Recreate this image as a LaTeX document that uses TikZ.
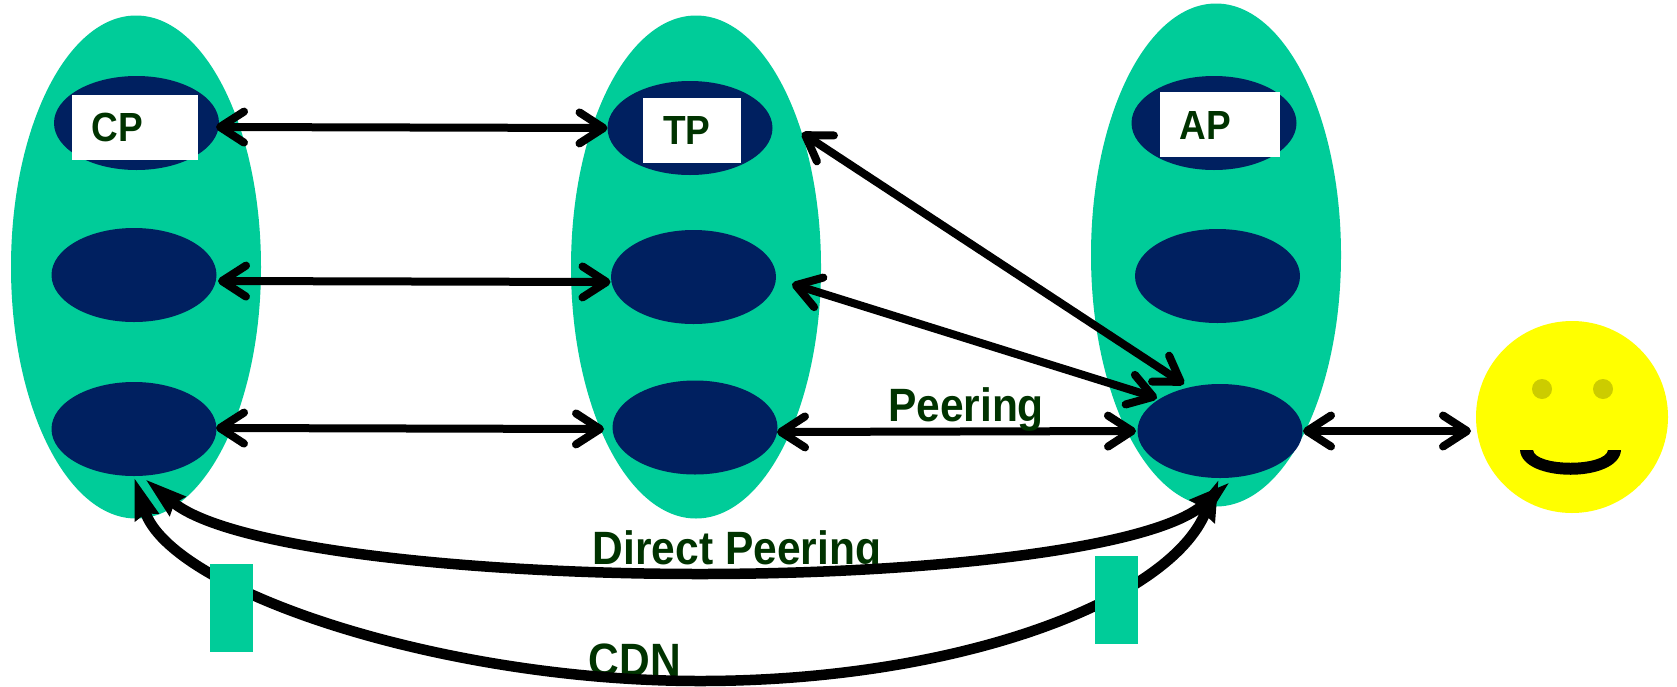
\documentclass[tikz,border=0pt]{standalone}
\usepackage{fontspec}
\setmainfont{Liberation Sans}
\usetikzlibrary{arrows.meta,shapes.geometric}
\definecolor{tealfill}{HTML}{00CC99}
\definecolor{navyfill}{HTML}{002060}
\definecolor{labelgreen}{HTML}{003300}
\definecolor{eyecol}{HTML}{CCCC00}
\definecolor{smiley}{HTML}{FFFF00}
\newcommand{\tallword}[1]{\scalebox{1}[1.1]{#1}}
\tikzset{
  group/.style={ellipse,fill=tealfill,inner sep=0pt,minimum width=250pt,minimum height=503pt},
  router/.style={ellipse,fill=navyfill,inner sep=0pt,minimum width=165pt,minimum height=94pt},
  whitebox/.style={rectangle,fill=white,inner sep=0pt,minimum height=65pt},
  tealbox/.style={rectangle,fill=tealfill,inner sep=0pt,minimum width=43pt,minimum height=88pt},
  smalllabel/.style={anchor=base,inner sep=0pt,text=labelgreen,font=\fontsize{37}{44}\selectfont\bfseries},
  biglabel/.style={anchor=base,inner sep=0pt,text=labelgreen,font=\fontsize{42.5}{48}\selectfont\bfseries},
  link/.style={line width=8pt,line cap=round,{Straight Barb[length=24pt,width=31pt,round]}-{Straight Barb[length=24pt,width=31pt,round]}},
  longlink/.style={line width=10.5pt,{Stealth[length=41pt,width=23pt,inset=3pt]}-{Stealth[length=41pt,width=23pt,inset=3pt]}},
}
\begin{document}
\begin{tikzpicture}[x=1pt,y=-1pt]
\useasboundingbox (0,0) rectangle (1677,686);
% groups
\node[group] (gl) at (136,267) {};
\node[group] (gm) at (696,267) {};
\node[group] (gr) at (1216,255) {};
% routers
\node[router] (cp) at (136.5,123) {};
\node[router] (l2) at (134,275) {};
\node[router] (l3) at (134,429) {};
\node[router] (tp) at (690,128) {};
\node[router] (m2) at (693.5,277) {};
\node[router] (m3) at (695,427.5) {};
\node[router] (ap) at (1214,123) {};
\node[router] (r2) at (1217.5,276) {};
\node[router] (r3) at (1220,431) {};
% white boxes and labels
\node[whitebox,minimum width=126pt] (cpbox) at (135,127.5) {};
\node[whitebox,minimum width=98pt] (tpbox) at (692,130.5) {};
\node[whitebox,minimum width=120pt] (apbox) at (1220,124.5) {};
\node[smalllabel] (cplabel) at (117,141.5) {\tallword{CP}};
\node[smalllabel] (tplabel) at (687,144) {\tallword{TP}};
\node[smalllabel] (aplabel) at (1205,139) {\tallword{AP}};
\node[biglabel] (dplabel) at (737,564) {\tallword{Direct Peering}};
\node[biglabel] (cdnlabel) at (635,676) {\tallword{CDN}};
% user
\node[circle,fill=smiley,inner sep=0pt,minimum size=192pt] (user) at (1572,417) {};
\node[circle,fill=eyecol,inner sep=0pt,minimum size=20pt] (eyel) at (1542,389) {};
\node[circle,fill=eyecol,inner sep=0pt,minimum size=20pt] (eyer) at (1603,389) {};
\fill[black] (1520,450) .. controls (1522,483) and (1619,483) .. (1621,450) -- (1608,450) .. controls (1606,467) and (1535,467) .. (1533,450) -- cycle;
% connector ends
\coordinate (e1a) at (216,127);
\coordinate (e1b) at (607.5,128);
\coordinate (e2a) at (218,281);
\coordinate (e2b) at (610.5,282);
\coordinate (e3a) at (216,428);
\coordinate (e3b) at (604,429);
\coordinate (e4a) at (777,432);
\coordinate (e4b) at (1136,431);
\coordinate (e5a) at (1303,431);
\coordinate (e5b) at (1471,431);
\coordinate (e6a) at (802,133);
\coordinate (e6b) at (1184,384);
\coordinate (e7a) at (792,284);
\coordinate (e7b) at (1157,398);
\coordinate (d1) at (145,479);
\coordinate (dm) at (700,574);
\coordinate (d2) at (1230,482);
\coordinate (c1) at (134,477);
\coordinate (cm) at (700,681);
\coordinate (c2) at (1219,479);
% straight links
\draw[link] (e1a) -- (e1b);
\draw[link] (e2a) -- (e2b);
\draw[link] (e3a) -- (e3b);
\draw[link] (e4a) -- (e4b);
\draw[link] (e5a) -- (e5b);
\draw[link] (e6a) -- (e6b);
\draw[link] (e7a) -- (e7b);
% long curved links
\draw[longlink] (d1) .. controls (230,550) and (480,574) .. (dm) .. controls (920,574) and (1150,550) .. (d2);
\draw[longlink] (c1) .. controls (170,590) and (440,681) .. (cm) .. controls (960,681) and (1170,600) .. (c2);
% teal boxes and peering label
\node[tealbox] (boxl) at (231.5,608) {};
\node[tealbox] (boxr) at (1116.5,600) {};
\node[biglabel] (plabel) at (966,421) {\tallword{Peering}};
\end{tikzpicture}
\end{document}
